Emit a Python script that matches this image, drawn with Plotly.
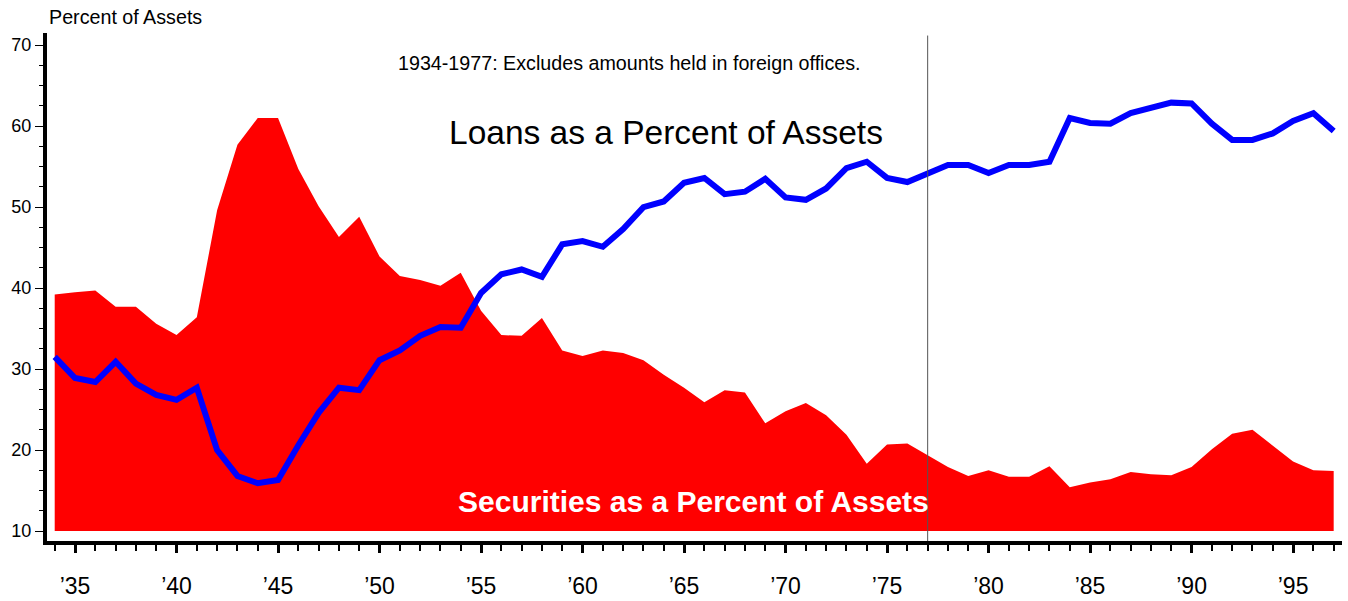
import plotly.graph_objects as go

years = list(range(1934, 1998))

securities = [39.2, 39.5, 39.7, 37.7, 37.7, 35.6, 34.2, 36.4, 49.6, 57.7,
              61.0, 61.0, 54.7, 50.1, 46.3, 48.8, 43.9, 41.5, 41.0, 40.3,
              41.9, 37.2, 34.2, 34.1, 36.3, 32.3, 31.6, 32.3, 32.0, 31.1,
              29.3, 27.7, 25.9, 27.4, 27.1, 23.3, 24.8, 25.8, 24.3, 21.9,
              18.3, 20.7, 20.8, 19.3, 17.9, 16.8, 17.5, 16.7, 16.7, 18.0,
              15.4, 16.0, 16.4, 17.3, 17.0, 16.9, 17.9, 20.1, 22.0, 22.5,
              20.5, 18.6, 17.5, 17.4]

loans = [31.5, 28.9, 28.4, 30.9, 28.2, 26.8, 26.2, 27.7, 20.0, 16.8,
         15.9, 16.3, 20.6, 24.6, 27.7, 27.4, 31.1, 32.3, 34.1, 35.2,
         35.1, 39.4, 41.7, 42.3, 41.4, 45.4, 45.8, 45.1, 47.3, 50.0,
         50.7, 53.0, 53.6, 51.6, 51.9, 53.5, 51.2, 50.9, 52.3, 54.8,
         55.6, 53.6, 53.1, 54.1, 55.2, 55.2, 54.2, 55.2, 55.2, 55.6,
         61.0, 60.4, 60.3, 61.6, 62.3, 62.9, 62.8, 60.3, 58.3, 58.3,
         59.1, 60.65, 61.6, 59.4]

baseline = [10] * len(years)

x_tickvals = [1935, 1940, 1945, 1950, 1955, 1960, 1965, 1970, 1975, 1980, 1985, 1990, 1995]
x_ticktext = ["\u201935", "\u201940", "\u201945", "\u201950", "\u201955", "\u201960", "\u201965",
              "\u201970", "\u201975", "\u201980", "\u201985", "\u201990", "\u201995"]
y_tickvals = [10, 20, 30, 40, 50, 60, 70]

FONT = "Liberation Sans, Arial, sans-serif"

fig = go.Figure()
fig.add_trace(go.Scatter(x=years, y=baseline, mode="lines", line=dict(width=0, color="rgba(0,0,0,0)"),
                         hoverinfo="skip", showlegend=False))
fig.add_trace(go.Scatter(x=years, y=securities, mode="lines", fill="tonexty",
                         fillcolor="#ff0000", line=dict(width=0, color="#ff0000"),
                         showlegend=False, name="Securities"))
fig.add_trace(go.Scatter(x=years, y=loans, mode="lines", line=dict(width=6, color="#0000ff"),
                         showlegend=False, name="Loans"))

fig.add_shape(type="line", x0=1977, x1=1977, xref="x", y0=0, y1=0.995, yref="paper",
              line=dict(color="#555555", width=1))

fig.update_layout(
    width=1348, height=601,
    margin=dict(l=47, r=6, t=33, b=60),
    paper_bgcolor="white", plot_bgcolor="white",
    font=dict(family=FONT, color="black"),
    xaxis=dict(range=[1933.62, 1997.41], showgrid=False, zeroline=False, automargin=False,
               showline=True, linecolor="black", linewidth=4,
               tickmode="array", tickvals=x_tickvals, ticktext=x_ticktext,
               ticks="outside", ticklen=8, tickwidth=3, tickcolor="black",
               ticklabelstandoff=13,
               tickfont=dict(size=23, family=FONT, color="black"),
               minor=dict(tickmode="linear", tick0=1934, dtick=1, ticks="outside",
                          ticklen=6, tickwidth=2, tickcolor="black")),
    yaxis=dict(range=[8.77, 71.5], showgrid=False, zeroline=False, automargin=False,
               showline=True, linecolor="black", linewidth=4,
               tickmode="array", tickvals=y_tickvals,
               ticks="outside", ticklen=8, tickwidth=1, tickcolor="black",
               tickfont=dict(size=18, family=FONT, color="black"),
               minor=dict(tickmode="linear", tick0=10, dtick=2.5, ticks="outside",
                          ticklen=4, tickwidth=1, tickcolor="black")),
    annotations=[
        dict(text="Percent of Assets", xref="paper", yref="paper", x=0, y=1,
             xanchor="left", yanchor="bottom", yshift=3, showarrow=False,
             font=dict(size=19.7, family=FONT, color="black")),
        dict(text="1934-1977: Excludes amounts held in foreign offices.", xref="paper", yref="paper",
             x=0.450, y=0.941, xanchor="center", yanchor="middle", showarrow=False,
             font=dict(size=19.7, family=FONT, color="black")),
        dict(text="Loans as a Percent of Assets", xref="paper", yref="paper",
             x=0.478, y=0.805, xanchor="center", yanchor="middle", showarrow=False,
             font=dict(size=33.5, family=FONT, color="black")),
        dict(text="<b>Securities as a Percent of Assets</b>", xref="paper", yref="paper",
             x=0.4996, y=0.0768, xanchor="center", yanchor="middle", showarrow=False,
             font=dict(size=30, family=FONT, color="white")),
    ],
)

fig.write_html("out.html", config={"displayModeBar": False},
               post_script="document.body.style.margin='0';document.body.style.padding='0';"
                           "document.documentElement.style.overflow='hidden';")
